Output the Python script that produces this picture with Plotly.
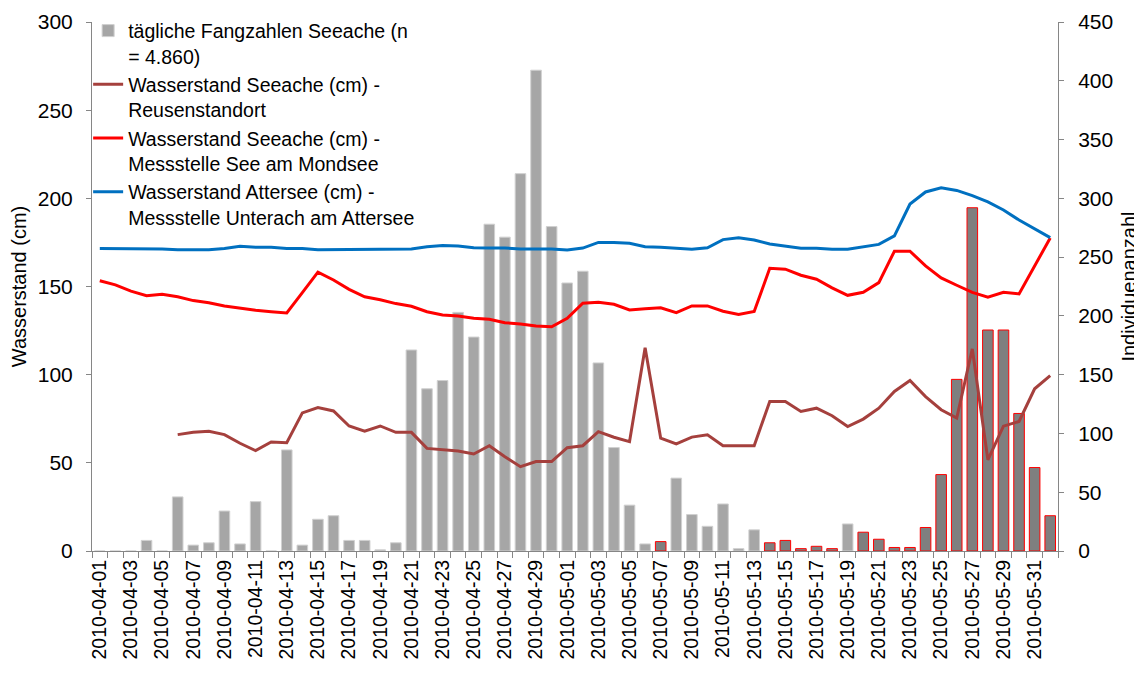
import pandas as pd
import plotly.graph_objects as go

# categories: one per day, 2010-04-01 .. 2010-06-01
days = [d.strftime('%Y-%m-%d') for d in pd.date_range('2010-04-01', '2010-06-01')]

# daily catches (Individuenanzahl, right axis)
catches = [0, 0, 0, 9, 0, 46, 5, 7, 34, 6,
           42, 0, 86, 5, 27, 30, 9, 9, 1, 7,
           171, 138, 145, 203, 182, 278, 267, 321, 409, 276,
           228, 238, 160, 88, 39, 6, 8, 62, 31, 21,
           40, 2, 18, 7, 9, 2, 4, 2, 23, 16,
           10, 3, 3, 20, 65, 146, 292, 188, 188, 117,
           71, 30]

# days whose bars are drawn dark with red outline in the original
marked_days = ['2010-05-07', '2010-05-14', '2010-05-15', '2010-05-16', '2010-05-17',
               '2010-05-18', '2010-05-20', '2010-05-21', '2010-05-22', '2010-05-23',
               '2010-05-24', '2010-05-25', '2010-05-26', '2010-05-27', '2010-05-28',
               '2010-05-29', '2010-05-30', '2010-05-31', '2010-06-01']

# water levels (cm, left axis)
reuse = [None, None, None, None, None, 66, 67.3, 67.9, 66, 61.1,
         56.9, 61.8, 61.4, 78.3, 81.3, 79.4, 70.9, 67.9, 70.9, 67.3,
         67.3, 58.2, 57.3, 56.7, 55, 59.7, 53.5, 47.8, 50.7, 50.7,
         58.6, 59.7, 67.7, 64.5, 62, 115.3, 64, 60.8, 64.6, 65.9,
         59.7, 59.7, 59.7, 84.8, 84.8, 79.1, 81, 76.7, 70.6, 74.8,
         81, 90.5, 96.7, 87.6, 80.1, 75.4, 114.6, 51.7, 70.8, 73.5,
         92, 99.5]

mondsee = [153.3, 150.9, 147.4, 144.8, 145.6, 144.2, 142, 140.8, 138.9, 137.6,
           136.5, 135.7, 135, 146.5, 158.2, 153.7, 148.4, 144.2, 142.5, 140.3,
           138.8, 135.7, 133.8, 133.3, 132, 131.4, 129.5, 128.7, 127.6, 127.2,
           132, 140.5, 141, 139.9, 136.7, 137.4, 137.9, 135.2, 139, 139,
           136, 134.1, 135.8, 160.3, 159.8, 156.4, 154.1, 149.2, 145, 146.7,
           152.2, 170, 170, 161.7, 154.9, 150.7, 146.7, 143.9, 146.7, 145.8,
           161.3, 177.5]

attersee = [171.5, 171.5, 171.5, 171.5, 171.3, 170.9, 170.9, 170.9, 171.6, 172.8,
            172.2, 172.2, 171.5, 171.5, 170.9, 170.9, 170.9, 170.9, 170.9, 170.9,
            171.3, 172.6, 173.3, 173, 172, 171.8, 171.8, 171.3, 171.3, 171.3,
            170.7, 171.8, 175, 175, 174.5, 172.6, 172.3, 171.7, 171.1, 172,
            176.6, 177.7, 176.4, 174.1, 173, 171.7, 171.7, 171.1, 171.1, 172.4,
            173.9, 178.7, 196.8, 203.6, 206, 204.5, 201.5, 198, 193.4, 187.7,
            182.8, 177.7]

tick_text = [d if i % 2 == 0 else '' for i, d in enumerate(days)]

bar_fill = ['#7F7F7F' if d in marked_days else '#A6A6A6' for d in days]
bar_edge = ['#FF0000' if d in marked_days else '#D0D0D0' for d in days]

font = 'Liberation Sans, Arial, sans-serif'
axis_grey = '#868686'

fig = go.Figure()
fig.add_trace(go.Bar(x=days, y=catches, name='tägliche Fangzahlen Seeache (n<br>= 4.860)',
                     marker=dict(color=bar_fill, line=dict(color=bar_edge, width=1)),
                     yaxis='y'))
fig.add_trace(go.Scatter(x=days, y=reuse, name='Wasserstand Seeache (cm) -<br>Reusenstandort',
                         mode='lines', line=dict(color='#A5403D', width=3), yaxis='y2'))
fig.add_trace(go.Scatter(x=days, y=mondsee, name='Wasserstand Seeache (cm) -<br>Messstelle See am Mondsee',
                         mode='lines', line=dict(color='#FF0000', width=3), yaxis='y2'))
fig.add_trace(go.Scatter(x=days, y=attersee, name='Wasserstand Attersee (cm) -<br>Messstelle Unterach am Attersee',
                         mode='lines', line=dict(color='#0070C0', width=3), yaxis='y2'))

# the page body adds an 8px margin, so the figure is 8px smaller than the window
fig.update_layout(
    width=1134, height=667,
    margin=dict(l=84, r=84, t=14, b=124, autoexpand=False),
    plot_bgcolor='white', paper_bgcolor='white',
    font=dict(family=font, size=20, color='black'),
    bargap=0.32,
    showlegend=True,
    legend=dict(x=-0.004, y=1.02, xanchor='left', yanchor='top', valign='top',
                bgcolor='rgba(0,0,0,0)', font=dict(size=19.5), traceorder='normal'),
    xaxis=dict(type='category', tickmode='array', tickvals=days, ticktext=tick_text,
               tickangle=-90, tickson='boundaries', ticks='outside', ticklen=6,
               tickcolor=axis_grey, showline=True, linecolor=axis_grey,
               showgrid=False, tickfont=dict(size=19.5), automargin=False),
    yaxis=dict(side='right', range=[0, 450], dtick=50, ticks='outside', ticklen=5,
               tickcolor=axis_grey, showline=True, linecolor=axis_grey, showgrid=False,
               zeroline=False, tickfont=dict(size=21), ticklabelstandoff=10,
               automargin=False,
               title=dict(text='Individuenanzahl', font=dict(size=20), standoff=9)),
    yaxis2=dict(overlaying='y', side='left', range=[0, 300], dtick=50, ticks='outside',
                ticklen=5, tickcolor=axis_grey, showline=True, linecolor=axis_grey,
                showgrid=False, zeroline=False, tickfont=dict(size=21),
                ticklabelstandoff=9, automargin=False,
                title=dict(text='Wasserstand (cm)', font=dict(size=20), standoff=9)),
)

fig.write_html('out.html')
